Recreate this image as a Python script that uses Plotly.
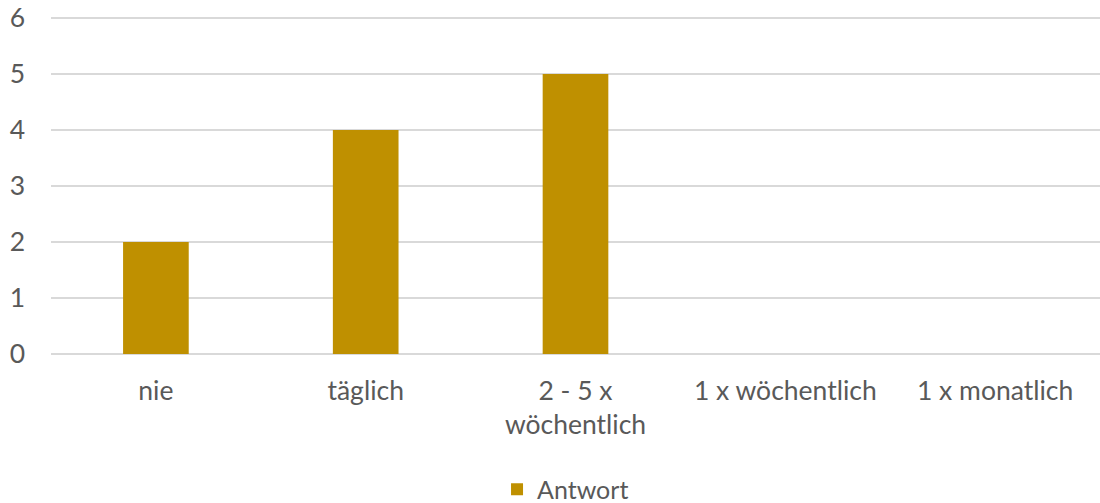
import plotly.graph_objects as go

categories = ["nie", "täglich", "2 - 5 x<br>wöchentlich", "1 x wöchentlich", "1 x monatlich"]
values = [2, 4, 5, 0, 0]
series_name = "Antwort"
y_ticks = [0, 1, 2, 3, 4, 5, 6]

fig = go.Figure()
fig.add_trace(go.Bar(x=categories, y=values, name=series_name,
                     marker=dict(color="#BF9000", line=dict(width=0))))

font_family = "Lato"
fig.update_layout(
    width=1100, height=503,
    margin=dict(l=51, r=0, t=15, b=149),
    plot_bgcolor="white", paper_bgcolor="white",
    bargap=0.687,
    font=dict(family=font_family, size=26.5, color="#595959"),
    showlegend=True,
    legend=dict(orientation="h", x=0.4905, xanchor="center", yref="container",
                y=0.027, yanchor="middle", font=dict(size=25, color="#595959")),
    xaxis=dict(showgrid=False, showline=False, ticks="", ticklabelstandoff=18,
               automargin=False),
    yaxis=dict(range=[0, 6 + 3 / 56], tickvals=y_ticks, showgrid=True, gridcolor="#D9D9D9",
               gridwidth=1.5, zeroline=True, zerolinecolor="#D9D9D9", zerolinewidth=1.5,
               showline=False, ticks="", ticklabelstandoff=25, automargin=False,
               ticklabeloverflow="allow"),
)
fig.write_html("out.html", config={"displayModeBar": False},
               post_script="document.body.style.margin='0';")
